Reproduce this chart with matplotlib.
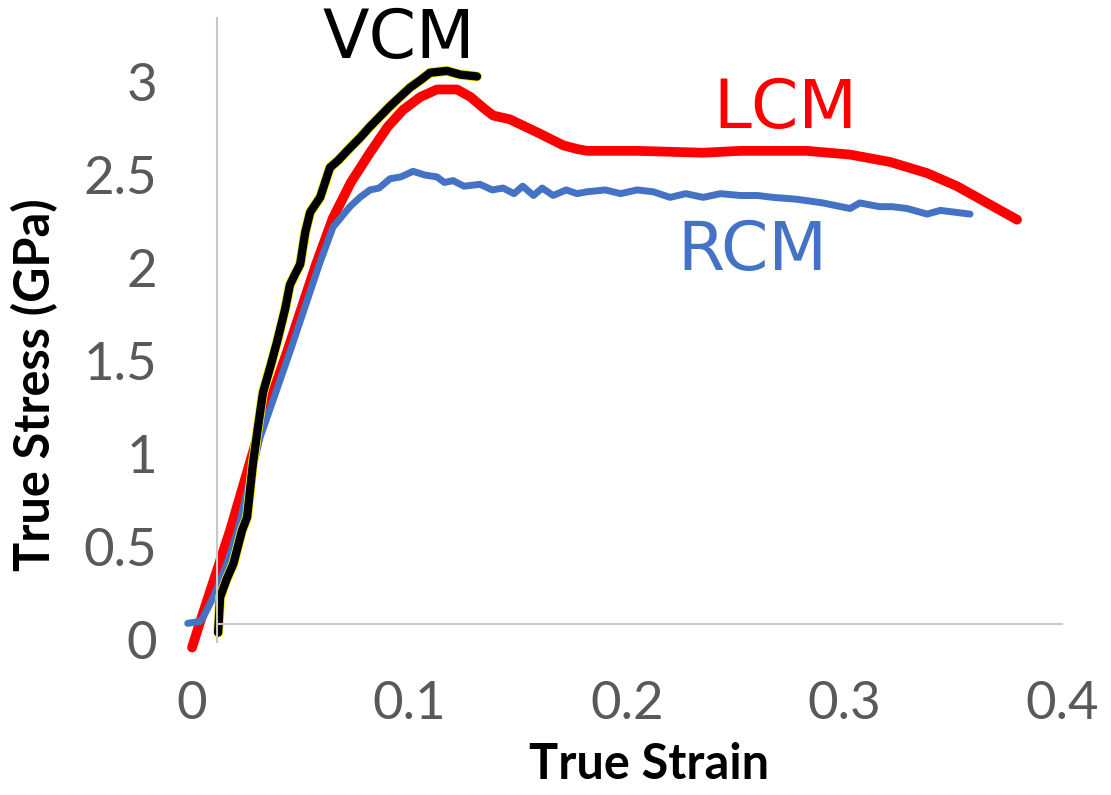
import matplotlib
matplotlib.use("Agg")
import matplotlib.pyplot as plt
import matplotlib.patheffects as pe

# LCM curve (red)
lcm_strain = [0.0, 0.0035, 0.0175, 0.030, 0.0437, 0.057, 0.0648, 0.0730, 0.0818, 0.090, 0.097,
              0.105, 0.1126, 0.1218, 0.128, 0.134, 0.1384, 0.146, 0.1586, 0.1706, 0.1770, 0.1816,
              0.2046, 0.235, 0.252, 0.2827, 0.3025, 0.321, 0.338, 0.3517, 0.3655, 0.3793]
lcm_stress = [-0.04, 0.09, 0.59, 1.09, 1.55, 2.02, 2.27, 2.46, 2.62, 2.76, 2.85,
              2.92, 2.96, 2.96, 2.92, 2.86, 2.82, 2.80, 2.73, 2.66, 2.64, 2.63,
              2.63, 2.62, 2.63, 2.63, 2.61, 2.57, 2.51, 2.44, 2.35, 2.26]

# RCM curve (blue)
rcm_strain = [-0.002, 0.0037, 0.005, 0.0097, 0.016, 0.021, 0.0313, 0.045, 0.0585, 0.0648,
              0.0726, 0.0772, 0.0818, 0.086, 0.091, 0.096, 0.1016, 0.107, 0.1126, 0.116, 0.12,
              0.125, 0.1324, 0.138, 0.143, 0.148, 0.152, 0.157, 0.161, 0.166, 0.172, 0.177,
              0.1816, 0.190, 0.197, 0.2046, 0.212, 0.2198, 0.227, 0.235, 0.243, 0.252, 0.260,
              0.267, 0.278, 0.290, 0.3025, 0.307, 0.316, 0.322, 0.3287, 0.338, 0.344, 0.3577]
rcm_stress = [0.09, 0.10, 0.12, 0.23, 0.41, 0.59, 1.09, 1.55, 2.02, 2.22,
              2.33, 2.38, 2.42, 2.43, 2.48, 2.49, 2.52, 2.50, 2.49, 2.46, 2.47,
              2.44, 2.45, 2.42, 2.43, 2.40, 2.44, 2.39, 2.43, 2.39, 2.42, 2.40,
              2.41, 2.42, 2.40, 2.42, 2.41, 2.38, 2.40, 2.38, 2.40, 2.39, 2.39,
              2.38, 2.37, 2.35, 2.32, 2.35, 2.33, 2.33, 2.32, 2.29, 2.31, 2.29]

# VCM curve (black)
vcm_strain = [0.012, 0.0129, 0.016, 0.019, 0.023, 0.0253, 0.028, 0.030, 0.0326, 0.036, 0.039,
              0.0428, 0.045, 0.0475, 0.0497, 0.052, 0.0543, 0.0589, 0.0634, 0.0673, 0.0713,
              0.0772, 0.0818, 0.086, 0.091, 0.1002, 0.105, 0.1094, 0.1172, 0.1232, 0.131]
vcm_stress = [0.04, 0.23, 0.33, 0.41, 0.59, 0.66, 0.95, 1.12, 1.33, 1.47, 1.60,
              1.78, 1.91, 1.97, 2.02, 2.19, 2.30, 2.38, 2.54, 2.58, 2.63,
              2.70, 2.76, 2.81, 2.87, 2.97, 3.01, 3.05, 3.06, 3.04, 3.03]

x_ticks = [0, 0.1, 0.2, 0.3, 0.4]
x_tick_labels = ["0", "0.1", "0.2", "0.3", "0.4"]
y_ticks = [0, 0.5, 1, 1.5, 2, 2.5, 3]
y_tick_labels = ["0", "0.5", "1", "1.5", "2", "2.5", "3"]

fig = plt.figure(figsize=(11.11, 7.95), dpi=100)
ax = fig.add_axes([0, 0, 1, 1])
ax.set_xlim(-0.0883, 0.4225)
ax.set_ylim(-0.833, 3.441)

ax.plot(lcm_strain, lcm_stress, color="#FF0000", lw=7, solid_capstyle="round", solid_joinstyle="round")
ax.plot(rcm_strain, rcm_stress, color="#4472C4", lw=5, solid_capstyle="round", solid_joinstyle="round")
ax.plot(vcm_strain, vcm_stress, color="black", lw=6, solid_capstyle="round", solid_joinstyle="round",
        path_effects=[pe.Stroke(linewidth=7.2, foreground="#F5F000"), pe.Normal()])

# axis lines (Excel-like, crossing inside the plot)
for s in ["top", "right"]:
    ax.spines[s].set_visible(False)
ax.spines["left"].set_position(("data", 0.0115))
ax.spines["left"].set_bounds(-0.01, 3.344)
ax.spines["bottom"].set_position(("data", 0.086))
ax.spines["bottom"].set_bounds(0.0115, 0.4)
for s in ["left", "bottom"]:
    ax.spines[s].set_color("#C8C8C8")
    ax.spines[s].set_linewidth(1.5)

ax.set_xticks(x_ticks)
ax.set_xticklabels(x_tick_labels)
ax.set_yticks(y_ticks)
ax.set_yticklabels(y_tick_labels)
ax.tick_params(axis="y", length=0, pad=43, labelsize=38, labelcolor="#595959")
ax.tick_params(axis="x", length=0, pad=41, labelsize=38, labelcolor="#595959")
for lab in ax.get_xticklabels() + ax.get_yticklabels():
    lab.set_family("Lato")

ax.set_xlabel("True Strain", fontsize=35, fontweight="bold", family="Lato")
ax.xaxis.set_label_coords(0.584, 0.038)
ax.xaxis.label.set_verticalalignment("center")
ax.set_ylabel("True Stress (GPa)", fontsize=35, fontweight="bold", family="Lato")
ax.yaxis.set_label_coords(0.031, 0.516)
ax.yaxis.label.set_verticalalignment("center")

ax.text(0.0950, 3.23, "VCM", color="black", fontsize=49, ha="center", va="center")
ax.text(0.2726, 2.855, "LCM", color="#FF0000", fontsize=49, ha="center", va="center")
ax.text(0.2575, 2.09, "RCM", color="#4472C4", fontsize=49, ha="center", va="center")

fig.savefig("out.png", dpi=100, facecolor="white")
